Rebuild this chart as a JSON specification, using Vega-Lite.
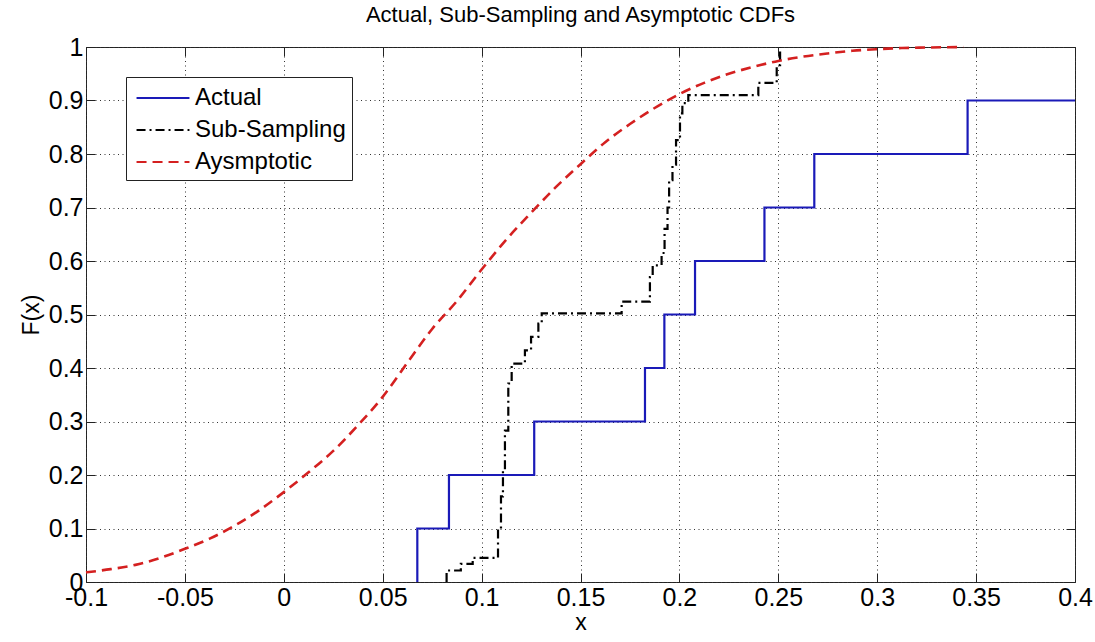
{
  "$schema": "https://vega.github.io/schema/vega-lite/v6.json",
  "width": 989,
  "height": 535,
  "autosize": {"type": "none"},
  "padding": {"left": 86, "top": 47, "right": 20, "bottom": 60},
  "background": "white",
  "title": {"text": "Actual, Sub-Sampling and Asymptotic CDFs", "fontSize": 22, "fontWeight": "normal", "font": "Liberation Sans", "color": "black", "offset": 8, "anchor": "middle"},
  "config": {
    "view": {"stroke": "#222", "strokeWidth": 1},
    "font": "Liberation Sans"
  },
  "data": {"values": [
    {"s": "Actual", "i": 1, "x": 0.0675, "y": 0},
    {"s": "Actual", "i": 2, "x": 0.0675, "y": 0.1},
    {"s": "Actual", "i": 3, "x": 0.0835, "y": 0.2},
    {"s": "Actual", "i": 4, "x": 0.1266, "y": 0.3},
    {"s": "Actual", "i": 5, "x": 0.1826, "y": 0.4},
    {"s": "Actual", "i": 6, "x": 0.1924, "y": 0.5},
    {"s": "Actual", "i": 7, "x": 0.2079, "y": 0.6},
    {"s": "Actual", "i": 8, "x": 0.243, "y": 0.7},
    {"s": "Actual", "i": 9, "x": 0.2682, "y": 0.8},
    {"s": "Actual", "i": 10, "x": 0.3457, "y": 0.9},
    {"s": "Actual", "i": 11, "x": 0.4, "y": 0.9},
    {"s": "Sub-Sampling", "i": 1, "x": 0.0823, "y": 0},
    {"s": "Sub-Sampling", "i": 2, "x": 0.0823, "y": 0.0215},
    {"s": "Sub-Sampling", "i": 3, "x": 0.0895, "y": 0.034},
    {"s": "Sub-Sampling", "i": 4, "x": 0.0955, "y": 0.045},
    {"s": "Sub-Sampling", "i": 5, "x": 0.1083, "y": 0.1},
    {"s": "Sub-Sampling", "i": 6, "x": 0.1098, "y": 0.16},
    {"s": "Sub-Sampling", "i": 7, "x": 0.1108, "y": 0.21},
    {"s": "Sub-Sampling", "i": 8, "x": 0.1118, "y": 0.283},
    {"s": "Sub-Sampling", "i": 9, "x": 0.1135, "y": 0.371},
    {"s": "Sub-Sampling", "i": 10, "x": 0.1152, "y": 0.408},
    {"s": "Sub-Sampling", "i": 11, "x": 0.1219, "y": 0.433},
    {"s": "Sub-Sampling", "i": 12, "x": 0.125, "y": 0.458},
    {"s": "Sub-Sampling", "i": 13, "x": 0.1287, "y": 0.483},
    {"s": "Sub-Sampling", "i": 14, "x": 0.1304, "y": 0.502},
    {"s": "Sub-Sampling", "i": 15, "x": 0.1708, "y": 0.524},
    {"s": "Sub-Sampling", "i": 16, "x": 0.1851, "y": 0.57},
    {"s": "Sub-Sampling", "i": 17, "x": 0.1865, "y": 0.592},
    {"s": "Sub-Sampling", "i": 18, "x": 0.191, "y": 0.615},
    {"s": "Sub-Sampling", "i": 19, "x": 0.1925, "y": 0.66},
    {"s": "Sub-Sampling", "i": 20, "x": 0.194, "y": 0.7},
    {"s": "Sub-Sampling", "i": 21, "x": 0.1948, "y": 0.751},
    {"s": "Sub-Sampling", "i": 22, "x": 0.1965, "y": 0.78},
    {"s": "Sub-Sampling", "i": 23, "x": 0.1983, "y": 0.826},
    {"s": "Sub-Sampling", "i": 24, "x": 0.2003, "y": 0.876},
    {"s": "Sub-Sampling", "i": 25, "x": 0.2015, "y": 0.895},
    {"s": "Sub-Sampling", "i": 26, "x": 0.2045, "y": 0.91},
    {"s": "Sub-Sampling", "i": 27, "x": 0.2399, "y": 0.933},
    {"s": "Sub-Sampling", "i": 28, "x": 0.2492, "y": 0.966},
    {"s": "Sub-Sampling", "i": 29, "x": 0.2509, "y": 1.0},
    {"s": "Aysmptotic", "i": 1, "x": -0.1, "y": 0.018},
    {"s": "Aysmptotic", "i": 2, "x": -0.0875, "y": 0.024},
    {"s": "Aysmptotic", "i": 3, "x": -0.075, "y": 0.032},
    {"s": "Aysmptotic", "i": 4, "x": -0.0625, "y": 0.045},
    {"s": "Aysmptotic", "i": 5, "x": -0.05, "y": 0.062},
    {"s": "Aysmptotic", "i": 6, "x": -0.0375, "y": 0.081},
    {"s": "Aysmptotic", "i": 7, "x": -0.025, "y": 0.105},
    {"s": "Aysmptotic", "i": 8, "x": -0.0125, "y": 0.134},
    {"s": "Aysmptotic", "i": 9, "x": 0, "y": 0.168},
    {"s": "Aysmptotic", "i": 10, "x": 0.0125, "y": 0.205},
    {"s": "Aysmptotic", "i": 11, "x": 0.025, "y": 0.245},
    {"s": "Aysmptotic", "i": 12, "x": 0.0375, "y": 0.293},
    {"s": "Aysmptotic", "i": 13, "x": 0.05, "y": 0.346},
    {"s": "Aysmptotic", "i": 14, "x": 0.0625, "y": 0.41},
    {"s": "Aysmptotic", "i": 15, "x": 0.075, "y": 0.473},
    {"s": "Aysmptotic", "i": 16, "x": 0.0875, "y": 0.525},
    {"s": "Aysmptotic", "i": 17, "x": 0.1, "y": 0.584},
    {"s": "Aysmptotic", "i": 18, "x": 0.1125, "y": 0.64},
    {"s": "Aysmptotic", "i": 19, "x": 0.125, "y": 0.69},
    {"s": "Aysmptotic", "i": 20, "x": 0.1375, "y": 0.738},
    {"s": "Aysmptotic", "i": 21, "x": 0.15, "y": 0.781},
    {"s": "Aysmptotic", "i": 22, "x": 0.1625, "y": 0.822},
    {"s": "Aysmptotic", "i": 23, "x": 0.175, "y": 0.856},
    {"s": "Aysmptotic", "i": 24, "x": 0.1875, "y": 0.886},
    {"s": "Aysmptotic", "i": 25, "x": 0.2, "y": 0.912},
    {"s": "Aysmptotic", "i": 26, "x": 0.2125, "y": 0.933},
    {"s": "Aysmptotic", "i": 27, "x": 0.225, "y": 0.95},
    {"s": "Aysmptotic", "i": 28, "x": 0.2375, "y": 0.963},
    {"s": "Aysmptotic", "i": 29, "x": 0.25, "y": 0.974},
    {"s": "Aysmptotic", "i": 30, "x": 0.2625, "y": 0.982},
    {"s": "Aysmptotic", "i": 31, "x": 0.275, "y": 0.988},
    {"s": "Aysmptotic", "i": 32, "x": 0.2875, "y": 0.993},
    {"s": "Aysmptotic", "i": 33, "x": 0.3, "y": 0.996},
    {"s": "Aysmptotic", "i": 34, "x": 0.3125, "y": 0.998},
    {"s": "Aysmptotic", "i": 35, "x": 0.325, "y": 0.999},
    {"s": "Aysmptotic", "i": 36, "x": 0.3435, "y": 1.0}
  ]},
  "resolve": {"axis": {"x": "independent", "y": "independent"}},
  "layer": [
    {
      "transform": [{"filter": "datum.s !== 'Aysmptotic'"}],
      "mark": {"type": "line", "interpolate": "step-after", "strokeWidth": 2.2, "clip": true},
      "encoding": {
        "x": {"field": "x", "type": "quantitative",
          "scale": {"domain": [-0.1, 0.4], "nice": false, "zero": false},
          "axis": {"values": [-0.1, -0.05, 0, 0.05, 0.1, 0.15, 0.2, 0.25, 0.3, 0.35, 0.4],
            "labelExpr": "'' + datum.value", "grid": true, "gridDash": [1, 3.5], "gridColor": "#333", "gridOpacity": 1,
            "domain": false, "ticks": true, "tickSize": -9, "tickColor": "#222",
            "labelFontSize": 25, "labelFont": "Liberation Sans", "labelColor": "black", "labelPadding": 12,
            "labelFlush": false, "labelOverlap": false,
            "title": "x", "titleFontSize": 23, "titleFontWeight": "normal", "titleFont": "Liberation Sans", "titleColor": "black", "titlePadding": 1}},
        "y": {"field": "y", "type": "quantitative",
          "scale": {"domain": [0, 1], "nice": false, "zero": false},
          "axis": {"values": [0, 0.1, 0.2, 0.3, 0.4, 0.5, 0.6, 0.7, 0.8, 0.9, 1],
            "labelExpr": "'' + datum.value", "grid": true, "gridDash": [1, 3.5], "gridColor": "#333", "gridOpacity": 1,
            "domain": false, "ticks": true, "tickSize": -9, "tickColor": "#222",
            "labelFontSize": 25, "labelFont": "Liberation Sans", "labelColor": "black", "labelPadding": 12,
            "labelOverlap": false, "labelFlush": false,
            "title": "F(x)", "titleFontSize": 23, "titleFontWeight": "normal", "titleFont": "Liberation Sans", "titleColor": "black", "titlePadding": 5}},
        "order": {"field": "i", "type": "quantitative"},
        "color": {"field": "s", "type": "nominal",
          "scale": {"domain": ["Actual", "Sub-Sampling", "Aysmptotic"], "range": ["#1a1ab8", "#000000", "#d42020"]},
          "legend": {"orient": "none", "legendX": 40, "legendY": 30, "title": null, "symbolType": "M-1.96,0L1.96,0", "symbolSize": 729,
            "symbolStrokeWidth": 2.2, "symbolOffset": 16, "labelFontSize": 24, "labelFont": "Liberation Sans", "labelColor": "black",
            "strokeColor": "#222", "fillColor": "white", "padding": 6, "rowPadding": 5, "labelOffset": 17}},
        "strokeDash": {"field": "s", "type": "nominal",
          "scale": {"domain": ["Actual", "Sub-Sampling", "Aysmptotic"], "range": [[1, 0], [9, 4, 2, 4], [10, 6]]},
          "legend": {"orient": "none", "legendX": 40, "legendY": 30, "title": null, "symbolType": "M-1.96,0L1.96,0", "symbolSize": 729,
            "symbolStrokeWidth": 2.2, "symbolOffset": 16, "labelFontSize": 24, "labelFont": "Liberation Sans", "labelColor": "black",
            "strokeColor": "#222", "fillColor": "white", "padding": 6, "rowPadding": 5, "labelOffset": 17}}
      }
    },
    {
      "transform": [{"filter": "datum.s === 'Aysmptotic'"}],
      "mark": {"type": "line", "interpolate": "monotone", "strokeWidth": 2.6},
      "encoding": {
        "x": {"field": "x", "type": "quantitative", "axis": null},
        "y": {"field": "y", "type": "quantitative", "axis": null},
        "order": {"field": "i", "type": "quantitative"},
        "color": {"field": "s", "type": "nominal"},
        "strokeDash": {"field": "s", "type": "nominal"}
      }
    },
    {
      "transform": [{"filter": "datum.s === 'Aysmptotic'"}],
      "mark": {"type": "point", "opacity": 0},
      "encoding": {
        "x": {"field": "x", "type": "quantitative",
          "axis": {"orient": "top", "values": [-0.1, -0.05, 0, 0.05, 0.1, 0.15, 0.2, 0.25, 0.3, 0.35, 0.4], "labels": false, "grid": false, "domain": false, "tickSize": -9, "tickColor": "#222", "title": null}},
        "y": {"field": "y", "type": "quantitative",
          "axis": {"orient": "right", "values": [0, 0.1, 0.2, 0.3, 0.4, 0.5, 0.6, 0.7, 0.8, 0.9, 1], "labels": false, "grid": false, "domain": false, "tickSize": -9, "tickColor": "#222", "title": null}}
      }
    }
  ]
}
